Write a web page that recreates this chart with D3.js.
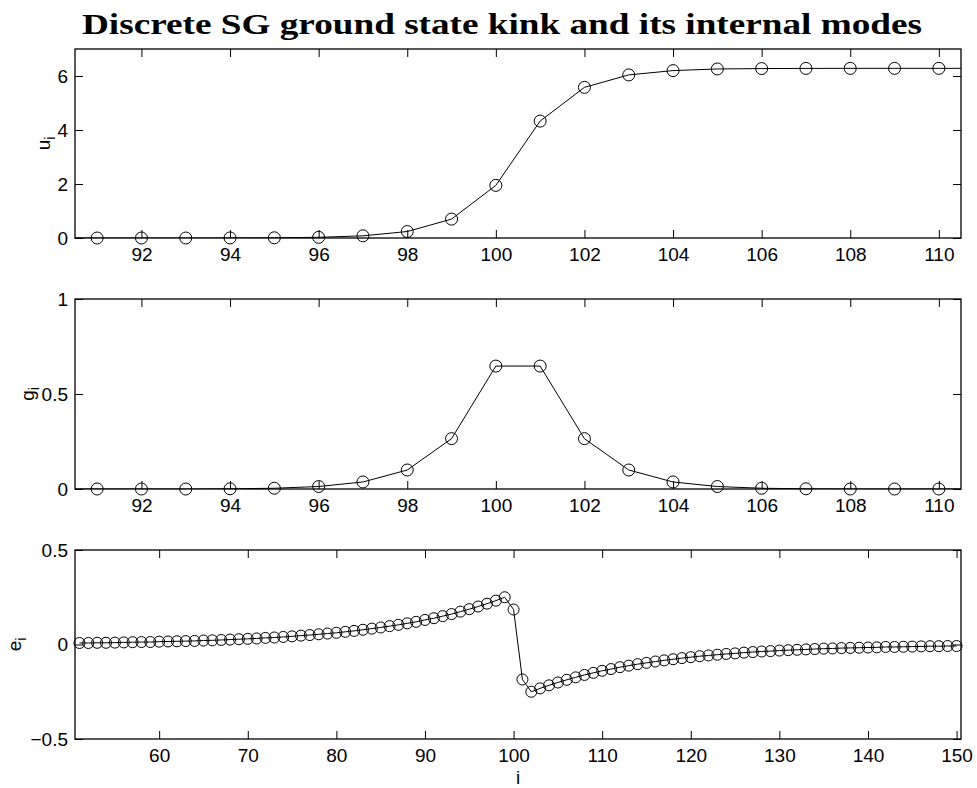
<!DOCTYPE html>
<style>
body { margin: 0; background: #fff; }
svg { font-family: "Liberation Sans", Arial, sans-serif; }
.title { font-family: "Liberation Serif", serif; font-weight: bold; }
</style>
<svg width="977" height="788"></svg>
<script src="https://d3js.org/d3.v7.min.js"></script>
<script>

// kink profile u_i, sites 90..111 (outer sites only carry the line to the frame)
var siteU = [90, 91, 92, 93, 94, 95, 96, 97, 98, 99, 100,
             101, 102, 103, 104, 105, 106, 107, 108, 109, 110, 111];
var valU = [0, 0, 0, 0, 0.002, 0.008, 0.025, 0.08, 0.24, 0.70, 1.95,
            4.33, 5.58, 6.04, 6.20, 6.26, 6.275, 6.281, 6.283, 6.283, 6.283, 6.283];

// localized internal mode g_i
var siteG = siteU;
var valG = [0, 0, 0, 0, 0.001, 0.004, 0.013, 0.037, 0.10, 0.265, 0.647,
            0.647, 0.265, 0.10, 0.037, 0.013, 0.004, 0.001, 0, 0, 0, 0];

// extended mode e_i, sites 51..150
var siteE = d3.range(51, 151);
var valE = [
  0.008, 0.008, 0.009, 0.009, 0.010, 0.011, 0.012, 0.013, 0.013, 0.015,
  0.016, 0.017, 0.018, 0.019, 0.021, 0.022, 0.024, 0.026, 0.028, 0.030,
  0.032, 0.035, 0.037, 0.040, 0.043, 0.047, 0.050, 0.054, 0.058, 0.062,
  0.067, 0.072, 0.078, 0.084, 0.090, 0.097, 0.104, 0.112, 0.120, 0.130,
  0.139, 0.150, 0.161, 0.174, 0.187, 0.201, 0.216, 0.232, 0.250, 0.185,
  -0.185, -0.250, -0.232, -0.216, -0.201, -0.187, -0.174, -0.161, -0.150, -0.139,
  -0.130, -0.120, -0.112, -0.104, -0.097, -0.090, -0.084, -0.078, -0.072, -0.067,
  -0.062, -0.058, -0.054, -0.050, -0.047, -0.043, -0.040, -0.037, -0.035, -0.032,
  -0.030, -0.028, -0.026, -0.024, -0.022, -0.021, -0.019, -0.018, -0.017, -0.016,
  -0.015, -0.013, -0.013, -0.012, -0.011, -0.010, -0.009, -0.009, -0.008, -0.008
];

var ticksXTop = [92, 94, 96, 98, 100, 102, 104, 106, 108, 110];
var ticksXBottom = [60, 70, 80, 90, 100, 110, 120, 130, 140, 150];
var ticksU = [0, 2, 4, 6];
var ticksG = [0, 0.5, 1];
var ticksE = [-0.5, 0, 0.5];

var svg = d3.select("svg");
var left = 75, right = 961, tickLen = 8;
var fmt = function(d) { return String(d).replace("-", "\u2212"); };

svg.append("text")
    .attr("class", "title")
    .attr("x", 502)
    .attr("y", 34)
    .attr("text-anchor", "middle")
    .attr("font-size", 30)
    .attr("textLength", 840)
    .attr("lengthAdjust", "spacingAndGlyphs")
    .text("Discrete SG ground state kink and its internal modes");

var panels = [
  {id: "u", top: 49, bottom: 238, xd: [90.5, 110.5], yd: [0, 7], xt: ticksXTop, yt: ticksU,
   xs: siteU, ys: valU, r: 6, sym: "u", labX: 50},
  {id: "g", top: 299, bottom: 489, xd: [90.5, 110.5], yd: [0, 1], xt: ticksXTop, yt: ticksG,
   xs: siteG, ys: valG, r: 6, sym: "g", labX: 34},
  {id: "e", top: 550, bottom: 739, xd: [50.5, 150.5], yd: [-0.5, 0.5], xt: ticksXBottom, yt: ticksE,
   xs: siteE, ys: valE, r: 5.5, sym: "e", labX: 21}
];

panels.forEach(function(p) {
  var x = d3.scaleLinear().domain(p.xd).range([left, right]);
  var y = d3.scaleLinear().domain(p.yd).range([p.bottom, p.top]);
  var g = svg.append("g");
  var pts = p.xs.map(function(s, i) { return [s, p.ys[i]]; });

  g.append("clipPath").attr("id", "clip-" + p.id)
    .append("rect")
      .attr("x", left).attr("y", p.top)
      .attr("width", right - left).attr("height", p.bottom - p.top);

  var plot = g.append("g").attr("clip-path", "url(#clip-" + p.id + ")");

  plot.append("path")
      .datum(pts)
      .attr("fill", "none")
      .attr("stroke", "#000")
      .attr("stroke-width", 1)
      .attr("d", d3.line().x(function(d) { return x(d[0]); }).y(function(d) { return y(d[1]); }));

  g.selectAll("circle")
    .data(pts.filter(function(d) { return d[0] > p.xd[0] && d[0] < p.xd[1]; }))
    .enter().append("circle")
      .attr("cx", function(d) { return x(d[0]); })
      .attr("cy", function(d) { return y(d[1]); })
      .attr("r", p.r)
      .attr("fill", "none")
      .attr("stroke", "#000")
      .attr("stroke-width", 1);

  // inward ticks on all four sides, labels bottom and left
  g.append("g")
      .attr("transform", "translate(0," + p.bottom + ")")
      .call(d3.axisBottom(x).tickValues(p.xt).tickSizeInner(-tickLen).tickSizeOuter(0).tickPadding(10));
  g.append("g")
      .attr("transform", "translate(0," + p.top + ")")
      .call(d3.axisTop(x).tickValues(p.xt).tickSizeInner(-tickLen).tickSizeOuter(0).tickFormat(""));
  g.append("g")
      .attr("transform", "translate(" + left + ",0)")
      .call(d3.axisLeft(y).tickValues(p.yt).tickSizeInner(-tickLen).tickSizeOuter(0).tickPadding(7).tickFormat(fmt));
  g.append("g")
      .attr("transform", "translate(" + right + ",0)")
      .call(d3.axisRight(y).tickValues(p.yt).tickSizeInner(-tickLen).tickSizeOuter(0).tickFormat(""));

  g.selectAll(".domain").remove();
  g.selectAll(".tick line").attr("stroke", "#000").attr("stroke-width", 1);
  g.selectAll(".tick text").attr("font-size", 19).attr("fill", "#000")
      .attr("font-family", "Liberation Sans, Arial, sans-serif");

  g.append("rect")
      .attr("x", left).attr("y", p.top)
      .attr("width", right - left).attr("height", p.bottom - p.top)
      .attr("fill", "none")
      .attr("stroke", "#000")
      .attr("stroke-width", 1.3);

  var lab = g.append("text")
      .attr("transform", "translate(" + p.labX + "," + (p.top + p.bottom) / 2 + ") rotate(-90)")
      .attr("text-anchor", "middle")
      .attr("font-size", 19);
  lab.append("tspan").text(p.sym);
  lab.append("tspan").attr("font-size", 14).attr("dy", 5).text("i");
});

svg.append("text")
    .attr("x", (left + right) / 2)
    .attr("y", 784)
    .attr("text-anchor", "middle")
    .attr("font-size", 19)
    .text("i");

</script>
